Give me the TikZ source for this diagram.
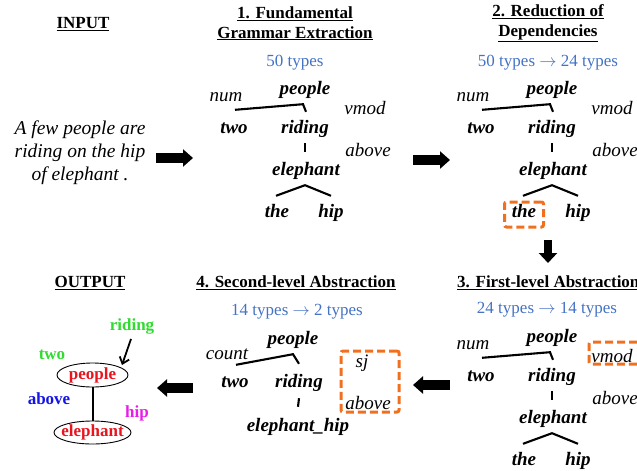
\documentclass[tikz,border=0pt]{standalone}
\usepackage{fontspec}
\setmainfont{Liberation Serif}
\usetikzlibrary{calc,arrows.meta,shapes.geometric}
\definecolor{typeblue}{HTML}{4472C4}
\definecolor{boxorange}{HTML}{F07020}
\definecolor{outred}{HTML}{E8141E}
\definecolor{outgreen}{HTML}{2EDC2E}
\definecolor{outblue}{HTML}{1414E6}
\definecolor{outmag}{HTML}{E61EE6}
\tikzset{
  heading/.style={font=\fontsize{17}{19.5}\selectfont\bfseries, align=center, inner sep=0pt},
  types/.style={font=\fontsize{17}{20}\selectfont, text=typeblue, inner sep=0pt},
  lw/.style={font=\fontsize{19}{22}\selectfont\bfseries\itshape, inner sep=0pt, text height=13.3pt, text depth=4.7pt},
  lab/.style={font=\fontsize{19}{22}\selectfont\itshape, inner sep=0pt},
  br/.style={line width=2.1pt},
  obox/.style={draw=boxorange, line width=3pt, dash pattern=on 8pt off 4pt, rounded corners=2pt, inner sep=0pt},
  blockarrow/.style={line width=10pt, -{Triangle[length=10pt,width=17pt]}},
  downarrow/.style={line width=8pt, -{Triangle[length=10pt,width=18pt]}},
  outnode/.style={ellipse, draw, line width=0.9pt, inner sep=0pt, font=\fontsize{17}{20}\selectfont\bfseries, text=outred},
  outlab/.style={font=\fontsize{17}{20}\selectfont\bfseries, inner sep=0pt},
}
\newcommand\basetree{%
  \node[lw] (people) at (305,90) {people};
  \node[lab] (num) at (226,97) {num};
  \node[lab] (vmod) at (365,108) {vmod};
  \node[lw] (two) at (234,129) {two};
  \node[lw] (riding) at (305,129) {riding};
  \node[lab] (above) at (368,150) {above};
  \node[lw] (elephant) at (306,171) {elephant};
  \node[lw] (the) at (277,213) {the};
  \node[lw] (hip) at (331,213) {hip};
  \draw[br] ($(two.north)+(1,-10)$) -- ($(people.south)+(-2,5)$) -- ($(riding.north)+(1,-8)$);
  \draw[br] ($(riding.south)+(0,5)$) -- ($(elephant.north)+(-1,-10)$);
  \draw[br] ($(the.north)+(-1,-8)$) -- ($(elephant.south)+(-1,5)$) -- ($(hip.north)+(0,-8)$);
}
\begin{document}
\begin{tikzpicture}[x=1pt,y=-1pt]
\useasboundingbox (0,0) rectangle (637,471);
\clip (0,0) rectangle (637,471);

% headings
\node[heading] (hin) at (83,24) {\underline{INPUT}};
\node[heading] (h1) at (295,23.5) {\underline{1. Fundamental}\\\underline{Grammar Extraction}};
\node[heading] (h2) at (548,23.5) {\underline{2. Reduction of}\\\underline{Dependencies}};
\node[heading, anchor=west] (h3) at (457,283) {\underline{3. First-level Abstraction}};
\node[heading] (h4) at (296,283) {\underline{4. Second-level Abstraction}};
\node[heading] (hout) at (90,283) {\underline{OUTPUT}};

% type counts
\node[types] (ty1) at (295,63) {50 types};
\node[types] (ty2) at (548,63) {50 types $\rightarrow$ 24 types};
\node[types] (ty3) at (547,310) {24 types $\rightarrow$ 14 types};
\node[types] (ty4) at (297,312) {14 types $\rightarrow$ 2 types};

% input sentence
\node[font=\fontsize{19.5}{23}\selectfont\itshape, align=center, inner sep=0pt] (input) at (80,153)
  {A few people are\\riding on the hip\\of elephant .};

% trees 1-3
\begin{scope}[name prefix=t1-]
  \basetree
\end{scope}
\begin{scope}[shift={(247,0)}, name prefix=t2-]
  \basetree
\end{scope}
\begin{scope}[shift={(247,248)}, name prefix=t3-]
  \basetree
\end{scope}
\node[obox, minimum width=39, minimum height=25] (box2) at ($(t2-the)+(0,1.5)$) {};
\node[obox, minimum width=50, minimum height=22] (box3) at ($(t3-vmod)+(2,-3)$) {};

% tree 4
\node[lw] (t4-people) at (293,340) {people};
\node[lab] (t4-count) at (227,354) {count};
\node[lw] (t4-two) at (235,383) {two};
\node[lw] (t4-riding) at (299,383) {riding};
\node[lw] (t4-eh) at (298,427) {elephant\_hip};
\draw[br] ($(t4-two.north)+(1,-9)$) -- ($(t4-people.south)+(0,5)$) -- ($(t4-riding.north)+(0,-10)$);
\draw[br] ($(t4-riding.south)+(0,6)$) -- ($(t4-eh.north)+(0,-11)$);
\node[obox, minimum width=58, minimum height=61] (box4) at (370,381.5) {};
\node[lab] (t4-sj) at (362,363) {sj};
\node[lab] (t4-above) at (368,403) {above};

% block arrows
\coordinate (a1s) at (156,158); \coordinate (a1e) at (193,158);
\coordinate (a2s) at (413,160); \coordinate (a2e) at (450,160);
\coordinate (a3s) at (548,240); \coordinate (a3e) at (548,263);
\coordinate (a4s) at (450,385); \coordinate (a4e) at (413,385);
\coordinate (a5s) at (193,388); \coordinate (a5e) at (157,388);
\draw[blockarrow] (a1s) -- (a1e);
\draw[blockarrow] (a2s) -- (a2e);
\draw[downarrow] (a3s) -- (a3e);
\draw[blockarrow] (a4s) -- (a4e);
\draw[blockarrow] (a5s) -- (a5e);

% output graph
\node[outnode, minimum width=71, minimum height=24] (op) at (92.5,375) {\makebox[0pt]{people}};
\node[outnode, minimum width=77, minimum height=23] (oe) at (92.5,432.5) {\makebox[0pt]{elephant}};
\draw[line width=2pt] (op) -- (oe);
\node[outlab, text=outgreen] (lriding) at (132,326) {riding};
\node[outlab, text=outgreen] (ltwo) at (52,355) {two};
\node[outlab, text=outblue] (labove) at (49,399) {above};
\node[outlab, text=outmag] (lhip) at (137,413) {hip};
\draw[line width=1.8pt, -{Straight Barb[length=6pt,width=10pt]}] ($(lriding.south)+(-1,5)$) -- ($(op.center)+(29.5,-10)$);
\end{tikzpicture}
\end{document}
